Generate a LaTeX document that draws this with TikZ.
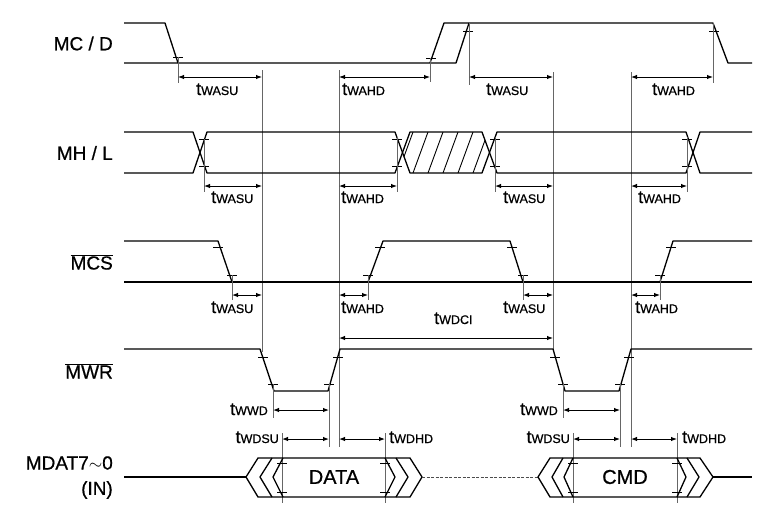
\documentclass[tikz,border=0pt]{standalone}
\usepackage{fontspec}
\setmainfont{Liberation Sans}[FakeBold=0.7]
\usetikzlibrary{arrows.meta}
\newcommand\tsub[1]{{\fontsize{18}{18}\selectfont t}{\fontsize{12.5}{12.5}\selectfont #1}}
\newcommand\tkk[2]{\draw[tk] ({#1-5},#2) -- ({#1+5},#2);}
\begin{document}
\begin{tikzpicture}[x=1pt,y=-1pt,
  sig/.style={line width=1.3pt,line join=round},
  ref/.style={line width=0.75pt,black!60},
  tk/.style={line width=0.8pt},
  dim/.style={{Latex[length=6pt,width=4.5pt]}-{Latex[length=6pt,width=4.5pt]},line width=1pt},
  lab/.style={font=\fontsize{19}{19}\selectfont,anchor=east,inner sep=0pt},
  tw/.style={inner sep=0pt,anchor=base west},
  te/.style={inner sep=0pt,anchor=base east},
  bus/.style={font=\fontsize{20}{20}\selectfont,inner sep=0pt}]
\useasboundingbox (0,0) rectangle (761,507);

% ---------- left labels
\node[lab] (lmc) at (113,43.5) {MC / D};
\node[lab] (lmh) at (113,153) {MH / L};
\node[lab] (lmcs) at (113,262) {$\overline{\mbox{MCS}}$};
\node[lab] (lmwr) at (113,371) {$\overline{\mbox{MWR}}$};
\node[lab] (lmd) at (113,463) {MDAT7{\LARGE$\sim$}0};
\node[lab] (lin) at (113,490) {(IN)};

% ---------- reference lines
\draw[ref] (262,70) -- (262,352);
\draw[ref] (339,70) -- (339,447);
\draw[ref] (553,72) -- (553,352);
\draw[ref] (631,72) -- (631,447);

% ---------- MC/D
\draw[sig] (124,23) -- (165,23) -- (178,63);
\draw[sig] (124,63) -- (456,63) -- (469,23);
\draw[sig] (430,63) -- (444,23) -- (713,23) -- (728,63) -- (752,63);
\tkk{178}{57} \tkk{431}{58} \tkk{468}{31} \tkk{714}{31}
\draw[ref] (178,57) -- (178,83);
\draw[ref] (430,58) -- (430,82);
\draw[ref] (469,23) -- (469,85);
\draw[ref] (713,23) -- (713,83);
\draw[dim] (178,77) -- (262,77);
\draw[dim] (339,77) -- (430,77);
\draw[dim] (469,77) -- (553,77);
\draw[dim] (631,77) -- (713,77);
\node[tw] (a1) at (196,95) {\tsub{WASU}};
\node[tw] (a2) at (342,95) {\tsub{WAHD}};
\node[tw] (a3) at (486,95) {\tsub{WASU}};
\node[tw] (a4) at (652,95) {\tsub{WAHD}};

% ---------- MH/L
\draw[sig] (124,132) -- (193,132) -- (207,173) -- (395,173) -- (410,132) -- (482,132) -- (497,173) -- (686,173) -- (700,132) -- (752,132);
\draw[sig] (124,173) -- (193,173) -- (207,132) -- (395,132) -- (410,173) -- (482,173) -- (497,132) -- (686,132) -- (700,173) -- (752,173);
\begin{scope}
  \clip (402.5,152.5) -- (410,132) -- (482,132) -- (489.5,152.5) -- (482,173) -- (410,173) -- cycle;
  \foreach \h in {398,413,428,443,458,473}
    \draw[line width=0.9pt] (\h,173) -- (\h+15,132);
\end{scope}
\foreach \xx in {204,397,495,687}{\tkk{\xx}{139} \tkk{\xx}{166}}
\draw[ref] (204,139) -- (204,192);
\draw[ref] (397,137) -- (397,192);
\draw[ref] (495,137) -- (495,192);
\draw[ref] (687,137) -- (687,192);
\draw[dim] (204,186) -- (262,186);
\draw[dim] (339,186) -- (397,186);
\draw[dim] (495,186) -- (553,186);
\draw[dim] (631,186) -- (687,186);
\node[tw] (b1) at (211,203) {\tsub{WASU}};
\node[tw] (b2) at (341,203) {\tsub{WAHD}};
\node[tw] (b3) at (503,203) {\tsub{WASU}};
\node[tw] (b4) at (638,203) {\tsub{WAHD}};

% ---------- MCS
\draw[sig] (124,282) -- (752,282);
\draw[sig] (124,241) -- (218,241) -- (232,282);
\draw[sig] (368,282) -- (383,241) -- (510,241) -- (523,282);
\draw[sig] (660,282) -- (673,241) -- (752,241);
\tkk{218}{247} \tkk{232}{275} \tkk{368}{275} \tkk{380}{247}
\tkk{512}{247} \tkk{523}{275} \tkk{660}{275} \tkk{671}{247}
\draw[ref] (232,275) -- (232,300);
\draw[ref] (368,275) -- (368,300);
\draw[ref] (523,275) -- (523,300);
\draw[ref] (660,275) -- (660,300);
\draw[dim] (232,295) -- (262,295);
\draw[dim] (339,295) -- (368,295);
\draw[dim] (523,295) -- (553,295);
\draw[dim] (631,295) -- (660,295);
\node[tw] (c1) at (211,313) {\tsub{WASU}};
\node[tw] (c2) at (341,313) {\tsub{WAHD}};
\node[tw] (c3) at (503,313) {\tsub{WASU}};
\node[tw] (c4) at (635,313) {\tsub{WAHD}};
\draw[dim] (339,338) -- (553,338);
\node[tw] (dci) at (434,324) {\tsub{WDCI}};

% ---------- MWR
\draw[sig] (124,349) -- (260,349) -- (274,391) -- (328,391) -- (340,349) -- (553,349) -- (565,391) -- (619,391) -- (631,349) -- (752,349);
\tkk{263}{357} \tkk{273}{384} \tkk{329}{384} \tkk{338}{357}
\tkk{555}{357} \tkk{563}{384} \tkk{620}{384} \tkk{629}{357}
\draw[ref] (273,384) -- (273,418);
\draw[ref] (329,384) -- (329,447);
\draw[ref] (563,384) -- (563,418);
\draw[ref] (620,384) -- (620,447);
\draw[dim] (273,410) -- (329,410);
\draw[dim] (563,410) -- (620,410);
\node[te] (w1) at (268,415) {\tsub{WWD}};
\node[te] (w2) at (558,415) {\tsub{WWD}};
\draw[dim] (282,439) -- (329,439);
\draw[dim] (573,439) -- (620,439);
\draw[dim] (339,439) -- (385,439);
\draw[dim] (631,439) -- (677,439);
\draw[ref] (282,433) -- (282,503);
\draw[ref] (385,433) -- (385,503);
\draw[ref] (573,433) -- (573,503);
\draw[ref] (677,433) -- (677,503);
\node[te] (s1) at (279,443) {\tsub{WDSU}};
\node[te] (s2) at (570,443) {\tsub{WDSU}};
\node[tw] (h1) at (389,443) {\tsub{WDHD}};
\node[tw] (h2) at (682,443) {\tsub{WDHD}};

% ---------- MDAT bus
\draw[sig] (124,477) -- (246,477);
\draw[sig] (246,477) -- (258,458) -- (410,458) -- (422,477) -- (410,497) -- (258,497) -- cycle;
\draw[sig] (272,458) -- (260,477) -- (272,497);
\draw[sig] (283,458) -- (273,477) -- (283,497);
\draw[sig] (385,458) -- (395,477) -- (385,497);
\draw[sig] (396,458) -- (408,477) -- (396,497);
\draw[line width=0.8pt,black!70,dash pattern=on 3pt off 1.5pt] (422,477) -- (538,477);
\draw[sig] (538,477) -- (550,458) -- (700,458) -- (713,477) -- (700,497) -- (550,497) -- cycle;
\draw[sig] (563,458) -- (552,477) -- (563,497);
\draw[sig] (573,458) -- (564,477) -- (573,497);
\draw[sig] (677,458) -- (686,477) -- (677,497);
\draw[sig] (687,458) -- (699,477) -- (687,497);
\draw[sig] (713,477) -- (752,477);
\foreach \xx in {282,385,573,677}{\tkk{\xx}{463} \tkk{\xx}{492}}
\node[bus] (data) at (334,477) {DATA};
\node[bus] (cmd) at (625,477) {CMD};
\end{tikzpicture}
\end{document}
